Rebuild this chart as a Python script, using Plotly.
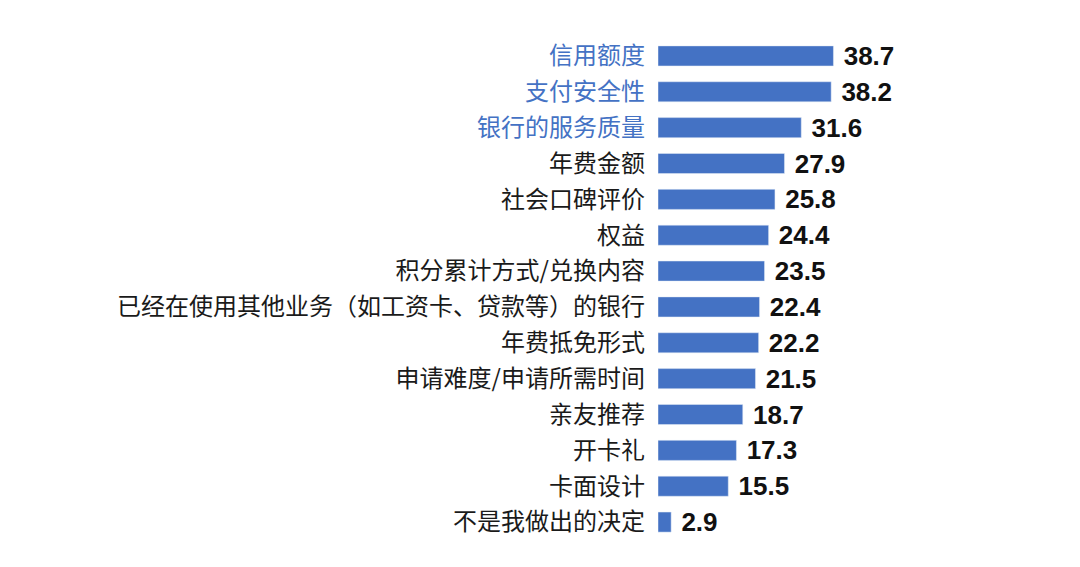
import plotly.graph_objects as go

categories = ['信用额度', '支付安全性', '银行的服务质量', '年费金额', '社会口碑评价', '权益',
              '积分累计方式/兑换内容', '已经在使用其他业务（如工资卡、贷款等）的银行', '年费抵免形式',
              '申请难度/申请所需时间', '亲友推荐', '开卡礼', '卡面设计', '不是我做出的决定']
values = [38.7, 38.2, 31.6, 27.9, 25.8, 24.4, 23.5, 22.4, 22.2, 21.5, 18.7, 17.3, 15.5, 2.9]
highlighted = ['信用额度', '支付安全性', '银行的服务质量']

tick_text = []
for c in categories:
    color = '#4472C4' if c in highlighted else '#1a1a1a'
    tick_text.append("<span style='color:%s'>%s</span>" % (color, c))

fig = go.Figure(go.Bar(
    x=values,
    y=categories,
    orientation='h',
    marker=dict(color='#4472C4'),
    text=['%.1f' % v for v in values],
    textposition='outside',
    constraintext='none',
    textfont=dict(family='Liberation Sans, Arial', size=26, color='#111111'),
    texttemplate='\u00a0<b>%{text}</b>',
    cliponaxis=False,
))

fig.update_layout(
    width=1080, height=567,
    margin=dict(l=650, r=226, t=30, b=35),
    paper_bgcolor='white', plot_bgcolor='white',
    bargap=0.44,
    showlegend=False,
    font=dict(family='Noto Sans CJK SC, sans-serif', size=24, color='#1a1a1a'),
    xaxis=dict(range=[0, 45], visible=False),
    yaxis=dict(autorange='reversed', tickmode='array', tickvals=categories, ticktext=tick_text,
               showline=False, showgrid=False, ticks='', ticklabelstandoff=12),
)

fig.write_html('out.html')
